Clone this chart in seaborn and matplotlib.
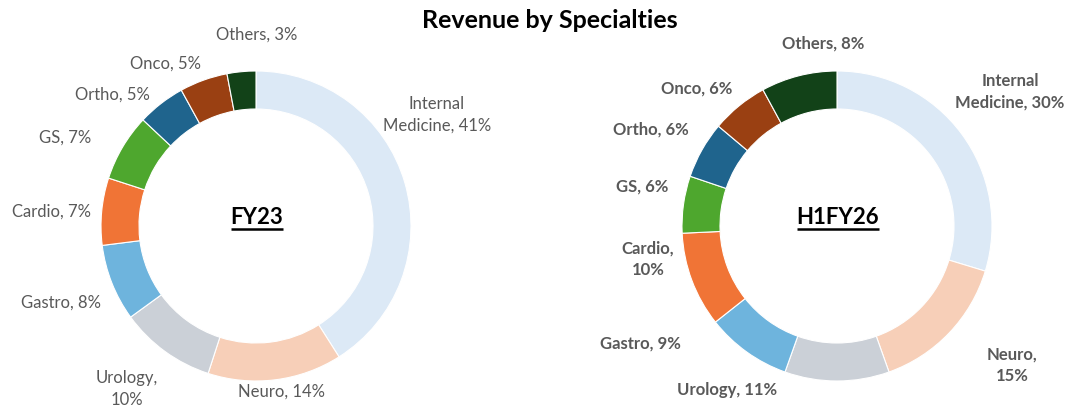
import matplotlib
matplotlib.use("Agg")
from matplotlib import pyplot as plt
import seaborn as sns

# data
specialties = ["Internal Medicine", "Neuro", "Urology", "Gastro", "Cardio", "GS", "Ortho", "Onco", "Others"]
fy23 = [41, 14, 10, 8, 7, 7, 5, 5, 3]
h1fy26 = [30, 15, 11, 9, 10, 6, 6, 6, 8]
colors = ["#DCE9F6", "#F7CFB8", "#CBD0D7", "#6EB4DD", "#F07436", "#4EA72E", "#1F648D", "#9A4012", "#124218"]

sns.set_theme(style="white")
plt.rcParams['font.family'] = ['Lato', 'DejaVu Sans']

W, H = 1068, 407
fig = plt.figure(figsize=(W / 100, H / 100), dpi=100)
ax = fig.add_axes([0, 0, 1, 1])

# layout: donut centers / radius in pixels (top-down y), label centers, wrapped labels
charts = [
    dict(name="FY23", values=fy23, center=(256, 226), bold=False,
         wrap={"Internal Medicine": "Internal\nMedicine", "Urology": "Urology,\n"},
         pos=[(437, 115), (282, 392), (127, 389), (61, 303), (52, 212), (65, 138), (112, 95), (165, 64), (257, 35)]),
    dict(name="H1FY26", values=h1fy26, center=(837, 226), bold=True,
         wrap={"Internal Medicine": "Internal\nMedicine", "Neuro": "Neuro,\n", "Cardio": "Cardio,\n"},
         pos=[(1010, 92), (1012, 365), (727, 390), (640, 344), (648, 259), (642, 187), (651, 130), (697, 89), (823, 44)]),
]
R, RING = 155, 38


def label_text(name, val, wrap):
    w = wrap.get(name)
    if w is None:
        return f"{name}, {val}%"
    if w.endswith("\n"):
        return f"{w}{val}%"
    return f"{w}, {val}%"


center_texts = []
for ch in charts:
    cx, cy = ch["center"]
    ax.pie(ch["values"], colors=colors, startangle=90, counterclock=False,
           center=(cx, H - cy), radius=R,
           wedgeprops=dict(width=RING, edgecolor="white", linewidth=0.8))
    for name, val, (lx, ly) in zip(specialties, ch["values"], ch["pos"]):
        ax.text(lx, H - ly, label_text(name, val, ch["wrap"]), ha="center", va="center",
                fontsize=12, color="#595959", linespacing=1.45,
                fontweight="bold" if ch["bold"] else "normal")
    t = ax.text(cx + 1, H - cy + 9, ch["name"], ha="center", va="center",
                fontsize=16, fontweight="bold", color="black")
    center_texts.append(t)

ax.text(550, H - 20, "Revenue by Specialties", ha="center", va="center",
        fontsize=18, fontweight="bold", color="black")

ax.set_xlim(0, W)
ax.set_ylim(0, H)
ax.set_aspect("equal")
ax.axis("off")

# underline center labels
fig.canvas.draw()
rend = fig.canvas.get_renderer()
inv = ax.transData.inverted()
for t in center_texts:
    bb = t.get_window_extent(rend)
    (x0, y0), (x1, _) = inv.transform([(bb.x0, bb.y0), (bb.x1, bb.y1)])
    ax.plot([x0, x1], [y0 - 1, y0 - 1], color="black", lw=1.8, solid_capstyle="butt")

fig.savefig("out.png", dpi=100)
